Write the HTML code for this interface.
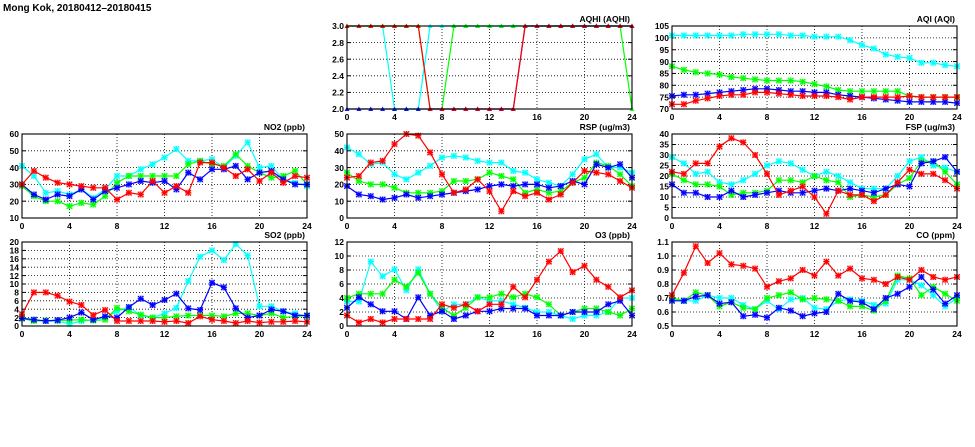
<!DOCTYPE html>
<html><head><meta charset="utf-8">
<style>
html,body{margin:0;padding:0;background:#fff;}
svg{display:block;font-family:"Liberation Sans",sans-serif;font-weight:bold;}
</style></head>
<body>
<svg id="chart" width="975" height="447" viewBox="0 0 975 447" xmlns="http://www.w3.org/2000/svg">
<text x="3" y="11" font-size="10" fill="#000">Mong Kok, 20180412–20180415</text>
</svg>
<script>
const hours = [0,1,2,3,4,5,6,7,8,9,10,11,12,13,14,15,16,17,18,19,20,21,22,23,24];
const xTicks = [0,4,8,12,16,20,24];
const seriesColors = ['#00ffff','#00ff00','#0000ff','#ff0000'];

const aqhiCyan  = [3,3,3,3,2,2,2,3,3,3,3,3,3,3,3,3,3,3,3,3,3,3,3,3,3];
const aqhiGreen = [3,3,3,3,3,3,3,2,2,3,3,3,3,3,3,3,3,3,3,3,3,3,3,3,2];
const aqhiBlue  = [2,2,2,2,2,2,2,2,2,2,2,2,2,2,2,3,3,3,3,3,3,3,3,3,3];
const aqhiRed   = [3,3,3,3,3,3,3,2,2,2,2,2,2,2,2,3,3,3,3,3,3,3,3,3,3];
const aqhiTicks = ['2.0','2.2','2.4','2.6','2.8','3.0'];

const aqiCyan  = [101,101,101,101,101,101,101.5,101.5,101.5,101.5,101,101,100.5,100.5,100.5,99,97,95.5,93,92,91.5,89.5,89.5,88.5,88];
const aqiGreen = [88,86.5,85.5,85,84.5,83.5,83,82.5,82,82,82,81.5,80.5,79.5,78,77.5,77.5,77.5,77.5,77.5,75.5,75,75,75,75];
const aqiBlue  = [75.5,76,76,76.5,77,77.5,78,78.5,78.5,78,77.5,77.5,77,77,76,75.5,75,74.5,74,73.5,73,73,73,73,72.5];
const aqiRed   = [72,72,73.5,74.5,75.5,76,76,77,77,76.5,76,75.5,75.5,75.5,75,74,75,75,75,75,75.5,75,75,75,75];
const aqiTicks = ['70','75','80','85','90','95','100','105'];

const no2Cyan  = [41,35,25,26,24,27,22,27,35,35,39,42,46,51,44,44,45,40,47,55,40,41,33,31,29];
const no2Green = [29,23,20,20,17,19,18,23,31,35,35,35,35,35,42,44,42,41,48,41,37,34,35,38,30];
const no2Blue  = [30,24,21,24,23,27,21,26,28,30,32,31,32,27,37,33,39,39,41,33,37,38,33,30,30];
const no2Red   = [30,38,34,31,30,29,28,28,21,25,24,32,25,29,25,43,43,40,35,39,32,37,31,35,34];
const no2Ticks = ['10','20','30','40','50','60'];

const rspCyan  = [42,38,32,33,26,23,27,31,36,37,36,34,33,33,28,27,23,21,19,26,35,38,30,30,27];
const rspGreen = [27,22,20,20,18,15,15,15,16,22,22,23,27,25,23,15,17,15,16,21,24,33,31,26,19];
const rspBlue  = [19,14,13,11,12,14,12,13,14,15,16,17,19,20,19,20,20,18,19,22,20,32,30,32,24];
const rspRed   = [24,25,33,34,44,50,49,39,26,15,17,23,16,4,16,13,15,11,14,21,28,27,26,22,18];
const rspTicks = ['0','10','20','30','40','50'];

const fspCyan  = [29,26,21,22,17,16,18,21,25,27,26,23,20,22,20,17,14,14,14,20,27,29,25,24,22];
const fspGreen = [21,18,16,16,15,11,12,12,13,18,18,17,20,18,17,10,11,10,11,16,19,27,27,22,16];
const fspBlue  = [16,12,12,10,10,13,10,11,12,13,12,12,13,14,13,14,13,12,14,16,15,26,27,29,22];
const fspRed   = [22,21,26,26,34,38,36,30,21,11,13,15,10,2,13,11,11,8,11,17,23,21,21,18,14];
const fspTicks = ['0','5','10','15','20','25','30','35','40'];

const so2Cyan  = [2,1.5,1.2,1.2,0.5,1.2,1.5,2,3.5,4.5,2.5,2,3,4.3,10.7,16.5,18,15.7,19.5,16.8,4.7,4.7,3.5,3,2.3];
const so2Green = [1.8,1.2,1.3,1.3,1.4,1.5,1.3,1.5,4.3,3.5,2.7,2,2,2.3,2.5,2.5,2.5,2.3,3,3,2.5,3,2,2.3,2.5];
const so2Blue  = [1.8,1.5,1.2,1.4,2,3.2,1.5,2.3,2,4.5,6.5,5,6.2,7.7,4.2,3.8,10.3,9.2,4.2,2,2.5,3.9,3.5,2.5,2.5];
const so2Red   = [2.8,8,8,7.2,5.8,5,2.6,3.8,1.2,1.2,1.2,1.2,1,1.2,0.7,2.3,1.5,1.2,0.7,1.2,0.8,1,1,1.2,1];
const so2Ticks = ['0','2','4','6','8','10','12','14','16','18','20'];

const o3Cyan  = [3.5,3.5,9.2,7.1,8.1,5.1,8.1,4.6,2.1,3.1,3.1,4.1,3.6,3.6,3.1,2.6,2,2,1.5,1,1.5,1.5,2,4,4];
const o3Green = [4,4.6,4.6,4.6,6.6,5.6,7.6,4.6,2.6,1.5,2.6,4.1,4.1,4.6,4.1,4.6,4.1,3.1,1.5,2,2.5,2.5,2,1.5,2.5];
const o3Blue  = [2.6,4.1,3.1,2.1,2.1,1,4.1,1.5,2.1,1,1.5,2.1,2.1,2.5,2.5,2.5,1.5,1.5,1.5,2,2,2,3.1,3.6,1.5];
const o3Red   = [1.5,0.5,1,0.5,1,1,1,1,3.1,2.6,3.1,2.1,3.1,3.1,5.6,4.1,6.6,9.2,10.7,7.7,8.6,6.6,5.6,4.1,5.1];
const o3Ticks = ['0','2','4','6','8','10','12'];

const coCyan  = [0.69,0.68,0.68,0.72,0.70,0.70,0.65,0.62,0.68,0.62,0.69,0.70,0.63,0.62,0.68,0.69,0.68,0.65,0.66,0.83,0.83,0.79,0.72,0.64,0.70];
const coGreen = [0.70,0.68,0.74,0.72,0.64,0.67,0.63,0.62,0.70,0.72,0.74,0.69,0.70,0.69,0.68,0.64,0.64,0.61,0.68,0.86,0.84,0.72,0.78,0.73,0.68];
const coBlue  = [0.68,0.68,0.71,0.72,0.66,0.67,0.57,0.58,0.56,0.63,0.61,0.57,0.59,0.60,0.73,0.68,0.67,0.62,0.70,0.73,0.78,0.85,0.76,0.66,0.72];
const coRed   = [0.72,0.88,1.07,0.95,1.02,0.94,0.93,0.91,0.78,0.82,0.84,0.90,0.86,0.96,0.86,0.91,0.84,0.83,0.80,0.85,0.83,0.90,0.85,0.83,0.85];
const coTicks = ['0.5','0.6','0.7','0.8','0.9','1.0','1.1'];

const NS = 'http://www.w3.org/2000/svg';
const svg = document.getElementById('chart');
function mk(tag, attrs, parent){
  const e = document.createElementNS(NS, tag);
  for (const k in attrs) e.setAttribute(k, attrs[k]);
  (parent||svg).appendChild(e);
  return e;
}

function panel(name, title, x0, x1, y0, y1, ticks, series, tri){
  const g = mk('g', {});
  
  
  const tv = ticks.map(Number);
  const ymin = tv[0], ymax = tv[tv.length-1];
  const xs = v => x0 + v / 24 * (x1 - x0);
  const ys = v => y1 - (v - ymin) / (ymax - ymin) * (y1 - y0);
  ticks.forEach((t,i) => {
    const y = ys(tv[i]);
    if (i>0 && i<ticks.length-1) mk('line',{x1:x0,x2:x1,y1:y,y2:y,stroke:'#000','stroke-width':0.8,'stroke-dasharray':'1,2'},g);
    const lb = mk('text',{x:x0-3,y:y+3.2,'font-size':8.5,'text-anchor':'end',fill:'#000'},g);
    lb.textContent = t;
    
    
    mk('line',{x1:x0,x2:x0+4,y1:y,y2:y,stroke:'#000','stroke-width':1},g);
    mk('line',{x1:x1-4,x2:x1,y1:y,y2:y,stroke:'#000','stroke-width':1},g);
  });
  xTicks.forEach(t => {
    const x = xs(t);
    if (t>0 && t<24) mk('line',{x1:x,x2:x,y1:y0,y2:y1,stroke:'#000','stroke-width':0.8,'stroke-dasharray':'1,2'},g);
    const lb = mk('text',{x:x,y:y1+11,'font-size':8.5,'text-anchor':'middle',fill:'#000'},g);
    lb.textContent = String(t);
    
    
  });
  series.forEach((vals, si) => {
    const col = seriesColors[si];
    const sg = mk('g', {}, g);
    
    
    const pts = vals.map((v,i) => xs(hours[i]).toFixed(1)+','+ys(v).toFixed(1)).join(' ');
    mk('polyline',{points:pts,fill:'none',stroke:col,'stroke-width':1.2},sg);
    vals.forEach((v,i) => {
      const x = xs(hours[i]), y = ys(v);
      if (tri){
        mk('path',{d:`M${x-2.5},${y+2}L${x+2.5},${y+2}L${x},${y-2.5}Z`,fill:col,opacity:0.9},sg);
      } else {
        mk('rect',{x:x-3,y:y-3,width:6,height:6,fill:col,opacity:0.3},sg);
        mk('path',{d:`M${x-2.7},${y-2.7}L${x+2.7},${y+2.7}M${x-2.7},${y+2.7}L${x+2.7},${y-2.7}M${x-3},${y}L${x+3},${y}M${x},${y-3}L${x},${y+3}`,stroke:col,'stroke-width':1.1},sg);
      }
    });
  });
  mk('rect',{x:x0,y:y0,width:x1-x0,height:y1-y0,fill:'none',stroke:'#000','stroke-width':1.1},g);
  const tt = mk('text',{x:x1-2,y:y0-4,'font-size':8.5,'text-anchor':'end',fill:'#000'},g);
  tt.textContent = title;
  
  
}

const C1=[22,307], C2=[347,632], C3=[672,957];
const R1=[26,109], R2=[134,218], R3=[242,326];
panel('aqhi','AQHI (AQHI)',C2[0],C2[1],R1[0],R1[1],aqhiTicks,[aqhiCyan,aqhiGreen,aqhiBlue,aqhiRed],true);
panel('aqi','AQI (AQI)',C3[0],C3[1],R1[0],R1[1],aqiTicks,[aqiCyan,aqiGreen,aqiBlue,aqiRed],false);
panel('no2','NO2 (ppb)',C1[0],C1[1],R2[0],R2[1],no2Ticks,[no2Cyan,no2Green,no2Blue,no2Red],false);
panel('rsp','RSP (ug/m3)',C2[0],C2[1],R2[0],R2[1],rspTicks,[rspCyan,rspGreen,rspBlue,rspRed],false);
panel('fsp','FSP (ug/m3)',C3[0],C3[1],R2[0],R2[1],fspTicks,[fspCyan,fspGreen,fspBlue,fspRed],false);
panel('so2','SO2 (ppb)',C1[0],C1[1],R3[0],R3[1],so2Ticks,[so2Cyan,so2Green,so2Blue,so2Red],false);
panel('o3','O3 (ppb)',C2[0],C2[1],R3[0],R3[1],o3Ticks,[o3Cyan,o3Green,o3Blue,o3Red],false);
panel('co','CO (ppm)',C3[0],C3[1],R3[0],R3[1],coTicks,[coCyan,coGreen,coBlue,coRed],false);
</script>
</body></html>
